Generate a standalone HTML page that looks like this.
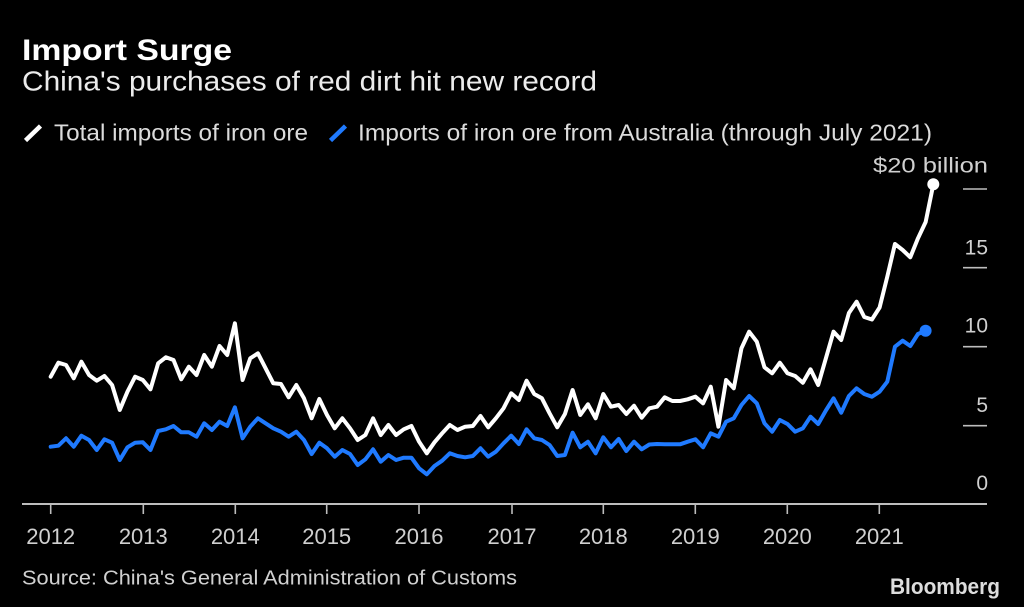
<!DOCTYPE html>
<html>
<head>
<meta charset="utf-8">
<style>
html,body{margin:0;padding:0;background:#000;}
body{width:1024px;height:607px;overflow:hidden;}
svg{display:block;}
text{font-family:"Liberation Sans",sans-serif;}
</style>
</head>
<body>
<svg width="1024" height="607" viewBox="0 0 1024 607" xmlns="http://www.w3.org/2000/svg">
<rect width="1024" height="607" fill="#000"/>

<!-- Titles -->
<text x="22" y="60" font-size="30" font-weight="bold" fill="#ffffff" textLength="210" lengthAdjust="spacingAndGlyphs">Import Surge</text>
<text x="22" y="90.5" font-size="28" fill="#ececec" textLength="575" lengthAdjust="spacingAndGlyphs">China's purchases of red dirt hit new record</text>

<!-- Legend -->
<line x1="25.5" y1="140.5" x2="40.5" y2="126" stroke="#ffffff" stroke-width="4.5"/>
<text x="54" y="140.5" font-size="23" fill="#dcdcdc" textLength="254" lengthAdjust="spacingAndGlyphs">Total imports of iron ore</text>
<line x1="330.5" y1="140.5" x2="345.5" y2="126" stroke="#1f7aff" stroke-width="4.5"/>
<text x="358" y="140.5" font-size="23" fill="#dcdcdc" textLength="574" lengthAdjust="spacingAndGlyphs">Imports of iron ore from Australia (through July 2021)</text>

<!-- Right axis -->
<g stroke="#bdbdbd" stroke-width="1.6">
<line x1="963" y1="189" x2="987" y2="189"/>
<line x1="963" y1="267.7" x2="987" y2="267.7"/>
<line x1="963" y1="346.7" x2="987" y2="346.7"/>
<line x1="963" y1="425.7" x2="987" y2="425.7"/>
</g>
<g font-size="21" fill="#d0d0d0" text-anchor="end">
<text x="988" y="172.5" textLength="115" lengthAdjust="spacingAndGlyphs">$20 billion</text>
<text x="988" y="254.3">15</text>
<text x="988" y="332.7">10</text>
<text x="988" y="412">5</text>
<text x="988" y="490">0</text>
</g>

<!-- X axis -->
<line x1="22" y1="504" x2="987" y2="504" stroke="#bdbdbd" stroke-width="2"/>
<g stroke="#bdbdbd" stroke-width="1.6">
<line x1="50.7" y1="504" x2="50.7" y2="514"/>
<line x1="143.3" y1="504" x2="143.3" y2="514"/>
<line x1="235.3" y1="504" x2="235.3" y2="514"/>
<line x1="326.7" y1="504" x2="326.7" y2="514"/>
<line x1="419" y1="504" x2="419" y2="514"/>
<line x1="512" y1="504" x2="512" y2="514"/>
<line x1="603.3" y1="504" x2="603.3" y2="514"/>
<line x1="695.3" y1="504" x2="695.3" y2="514"/>
<line x1="787.3" y1="504" x2="787.3" y2="514"/>
<line x1="879.3" y1="504" x2="879.3" y2="514"/>
</g>
<g font-size="22" fill="#d0d0d0" text-anchor="middle">
<text x="50.7" y="544">2012</text>
<text x="143.3" y="544">2013</text>
<text x="235.3" y="544">2014</text>
<text x="326.7" y="544">2015</text>
<text x="419" y="544">2016</text>
<text x="512" y="544">2017</text>
<text x="603.3" y="544">2018</text>
<text x="695.3" y="544">2019</text>
<text x="787.3" y="544">2020</text>
<text x="879.3" y="544">2021</text>
</g>

<!-- Series -->
<g transform="translate(50.7,0) scale(7.675,1)" fill="none" stroke-linejoin="round" stroke-linecap="round">
<polyline vector-effect="non-scaling-stroke" stroke="#ffffff" stroke-width="4" points="0,376.7 1,362.7 2,365 3,378.3 4,361.7 5,375 6,380.7 7,376 8,385 9,410 10,391.7 11,376.7 12,380 13,389.3 14,363.3 15,357.3 16,360 17,379.3 18,366.7 19,375 20,355 21,366.7 22,346 23,355 24,323.3 25,380 26,358.3 27,353.3 28,368.3 29,383.3 30,384 31,397.3 32,385 33,398.3 34,418.3 35,399 36,415 37,428.3 38,418.3 39,428.3 40,440 41,435 42,418.3 43,435 44,425 45,435 46,429.3 47,426 48,441.7 49,453.3 50,442.3 51,433.3 52,425 53,430 54,426.7 55,426 56,416 57,427.3 58,418.3 59,408.3 60,393.3 61,400 62,380.7 63,394 64,398.3 65,413.3 66,427.3 67,414 68,390 69,415 70,404.3 71,418.3 72,394 73,406.7 74,405 75,414 76,405.7 77,417.7 78,408.3 79,406.7 80,397.3 81,401 82,401 83,399.3 84,396.7 85,403.3 86,386.7 87,426.7 88,380 89,388.3 90,348.3 91,331.7 92,341.7 93,367.3 94,373.3 95,362.7 96,373.3 97,376 98,382.7 99,369.3 100,385 101,358.3 102,331.7 103,340 104,313 105,301.7 106,317 107,319.5 108,307.5 109,276.7 110,244 111,250 112,257.3 113,238.3 114,222 115,184.3"/>
<polyline vector-effect="non-scaling-stroke" stroke="#1f7aff" stroke-width="4" points="0,446.7 1,445.7 2,438.3 3,446.7 4,435.7 5,440 6,450 7,439.3 8,442.7 9,460 10,447.3 11,442.7 12,442.3 13,450 14,431 15,429.3 16,426 17,432.3 18,432.3 19,436.7 20,423.3 21,430 22,421.7 23,426 24,407.3 25,438.3 26,426.7 27,418.3 28,423.3 29,428.3 30,431.7 31,436.7 32,431.7 33,440 34,454 35,442.7 36,448.3 37,456.7 38,450 39,454 40,465 41,459.3 42,449.3 43,461.7 44,455 45,460 46,457.7 47,457.7 48,468.3 49,474.3 50,466 51,460.7 52,453.3 53,456 54,457.3 55,456 56,448.3 57,456.7 58,451.7 59,443.3 60,435.7 61,444 62,429.3 63,438.3 64,440 65,445 66,456 67,455 68,432.7 69,447.3 70,441.7 71,453.3 72,437.3 73,447.3 74,439 75,451 76,441.7 77,449.3 78,444.5 79,444 80,444.3 81,444.3 82,444.3 83,441.7 84,439.3 85,447.3 86,433.3 87,436.7 88,421.7 89,418.3 90,405 91,396 92,403.3 93,423.3 94,431.7 95,420 96,424 97,431.7 98,428.3 99,416.7 100,424 101,410.5 102,398.3 103,412.7 104,396 105,388.3 106,394 107,396.7 108,391.7 109,381.7 110,346.7 111,340.7 112,346 113,334 114,330.7"/>
</g>
<circle cx="933.3" cy="184.3" r="6" fill="#ffffff"/>
<circle cx="925.6" cy="330.7" r="6" fill="#1f7aff"/>

<!-- Footer -->
<text x="22" y="584.5" font-size="20" fill="#d0d0d0" textLength="495" lengthAdjust="spacingAndGlyphs">Source: China's General Administration of Customs</text>
<text x="890" y="594" font-size="22" font-weight="bold" fill="#dddddd" textLength="110" lengthAdjust="spacingAndGlyphs">Bloomberg</text>
</svg>
</body>
</html>
